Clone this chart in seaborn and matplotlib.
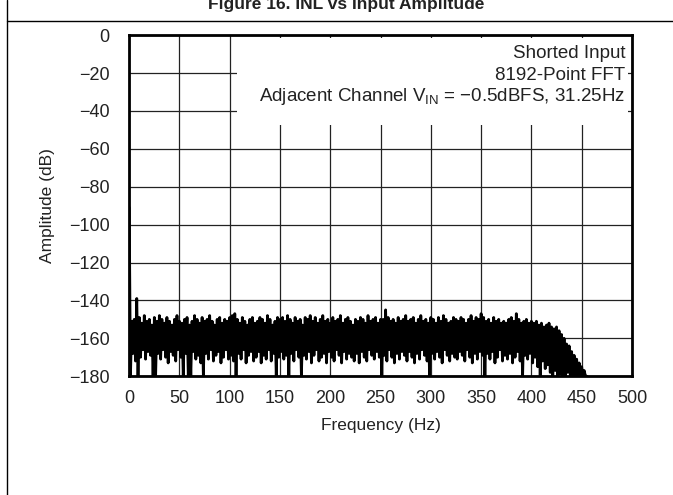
import numpy as np
import pandas as pd
import matplotlib
matplotlib.use('Agg')
import matplotlib.pyplot as plt
import seaborn as sns
from matplotlib.patches import Rectangle
from matplotlib.lines import Line2D

# Stil
sns.set_style('white')
plt.rcParams['font.family'] = ['Liberation Sans', 'DejaVu Sans']
plt.rcParams['mathtext.fontset'] = 'custom'
plt.rcParams['mathtext.rm'] = 'Liberation Sans'
plt.rcParams['mathtext.it'] = 'Liberation Sans:italic'

# Data (FFT, kortsluttet indgang)
dc_hz = [0.0]
dc_db = [-91]

# toppe i støjbåndet, hver 2.5 Hz
peak_hz = np.arange(2.5, 455.1, 2.5)
peak_db = [
    -151, -150, -139, -149, -152, -148, -151, -150, -153, -149,
    -151, -148, -150, -152, -149, -151, -153, -150, -148, -151,
    -152, -150, -149, -153, -151, -148, -150, -152, -149, -151,
    -150, -148, -151, -153, -150, -149, -152, -150, -151, -149,
    -148, -147, -150, -152, -149, -151, -153, -150, -149, -152,
    -151, -149, -150, -152, -148, -150, -153, -151, -149, -150,
    -149, -151, -148, -150, -152, -149, -151, -150, -153, -149,
    -150, -148, -151, -149, -152, -150, -148, -151, -150, -152,
    -149, -151, -150, -148, -152, -150, -149, -151, -153, -150,
    -151, -149, -150, -152, -148, -151, -150, -149, -152, -150,
    -150, -145, -149, -151, -150, -152, -149, -151, -150, -148,
    -151, -150, -149, -152, -150, -148, -151, -150, -152, -149,
    -150, -152, -149, -151, -148, -150, -152, -151, -149, -150,
    -151, -149, -150, -152, -150, -148, -151, -149, -150, -147,
    -149, -151, -150, -152, -149, -151, -150, -152, -151, -152,
    -150, -149, -151, -147, -150, -152, -151, -150, -152, -151,
    -152, -151, -153, -152, -154, -153, -152, -154, -155, -154,
    -156, -158, -160, -163, -164, -167, -169, -171, -173, -175,
    -177, -180,
]

# dale i støjbåndet, forskudt 1.25 Hz
trough_hz = np.arange(1.25, 455.0, 2.5)
trough_db = [
    -180, -168, -172, -180, -170, -166, -171, -167, -169, -180,
    -180, -168, -171, -166, -170, -173, -167, -169, -172, -166,
    -170, -180, -168, -180, -180, -167, -171, -169, -173, -180,
    -168, -171, -166, -172, -169, -167, -173, -170, -166, -171,
    -169, -172, -180, -168, -171, -166, -173, -169, -167, -172,
    -170, -167, -173, -169, -171, -166, -172, -168, -180, -170,
    -167, -171, -169, -180, -168, -172, -166, -170, -180, -169,
    -171, -167, -173, -169, -166, -172, -170, -168, -173, -167,
    -170, -172, -166, -169, -173, -167, -171, -168, -170, -172,
    -168, -173, -167, -170, -172, -166, -169, -171, -167, -170,
    -180, -169, -172, -166, -170, -173, -168, -171, -167, -169,
    -172, -167, -170, -173, -168, -171, -166, -169, -172, -180,
    -168, -171, -167, -170, -173, -166, -169, -172, -168, -170,
    -171, -167, -169, -172, -166, -170, -173, -168, -171, -167,
    -169, -180, -168, -171, -167, -173, -170, -166, -172, -169,
    -171, -168, -173, -170, -167, -172, -180, -169, -171, -168,
    -173, -170, -175, -180, -172, -176, -174, -178, -180, -177,
    -180, -179, -180, -180, -178, -180, -180, -180, -180, -180,
    -180, -180,
]

x_ticks = list(range(0, 501, 50))
y_ticks = list(range(-180, 1, 20))
notes = ['Shorted Input', '8192-Point FFT',
         r'Adjacent Channel V$_{\mathregular{IN}}$ = −0.5dBFS, 31.25Hz']

# Saml sporet i én tabel sorteret efter frekvens
trace = pd.concat([
    pd.DataFrame({'freq': dc_hz, 'amp': dc_db}),
    pd.DataFrame({'freq': peak_hz, 'amp': peak_db}),
    pd.DataFrame({'freq': trough_hz, 'amp': trough_db}),
]).sort_values('freq').reset_index(drop=True)

fig = plt.figure(figsize=(6.73, 4.95), dpi=100)
ax = fig.add_axes([0.192, 0.240, 0.747, 0.689])

sns.lineplot(data=trace, x='freq', y='amp', ax=ax, color='black',
             linewidth=2.0, estimator=None, sort=False, zorder=3)

ax.set_xlim(0, 500)
ax.set_ylim(-180, 0)
ax.set_xticks(x_ticks)
ax.set_yticks(y_ticks)
ax.grid(True, color='#222222', linewidth=0.9)
ax.set_axisbelow(True)
ax.tick_params(length=0, labelsize=13, colors='#222222')
ax.tick_params(axis='y', pad=14)
ax.tick_params(axis='x', pad=10)
for s in ax.spines.values():
    s.set_linewidth(2)
    s.set_color('black')

ax.set_xlabel('Frequency (Hz)', fontsize=12.5, color='#222222', labelpad=8)
ax.set_ylabel('Amplitude (dB)', fontsize=12.5, color='#222222', labelpad=10)

# hvid boks bag teksten, dækker gitteret
ax.add_patch(Rectangle((0.215, 0.736), 0.777, 0.255, transform=ax.transAxes,
                       facecolor='white', edgecolor='none', zorder=2))
for i, t in enumerate(notes):
    ax.text(0.987, 0.945 - i * 0.063, t, transform=ax.transAxes,
            ha='right', va='center', fontsize=13.5, color='#222222', zorder=4)

# ramme og titel
fig.add_artist(Line2D([7 / 673, 7 / 673], [0, 1], color='black', lw=1))
fig.add_artist(Line2D([7 / 673, 1], [1 - 21 / 495, 1 - 21 / 495], color='black', lw=1))
fig.text(0.514, 1 - 9 / 495, 'Figure 16. INL vs Input Amplitude', ha='center',
         va='baseline', fontsize=12.5, fontweight='bold', color='#222222')

fig.savefig('out.png', dpi=100)
